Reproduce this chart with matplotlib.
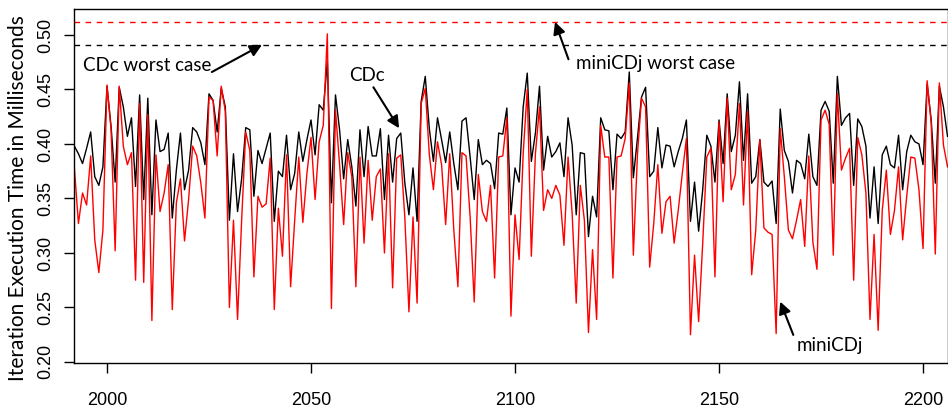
import numpy as np
import matplotlib.pyplot as plt
from matplotlib import font_manager

# ============================================================
# DATA (iteration execution time, milliseconds)
# ============================================================
first_iter = 1992

cdc = [
    0.398, 0.391, 0.382, 0.396, 0.411, 0.370, 0.362, 0.379, 0.453, 0.416,   # 1992-2001
    0.365, 0.452, 0.434, 0.407, 0.424, 0.361, 0.445, 0.349, 0.442, 0.335,   # 2002-2011
    0.422, 0.393, 0.395, 0.410, 0.332, 0.376, 0.410, 0.358, 0.376, 0.415,   # 2012-2021
    0.411, 0.401, 0.381, 0.446, 0.440, 0.411, 0.451, 0.434, 0.330, 0.391,   # 2022-2031
    0.338, 0.368, 0.415, 0.413, 0.352, 0.394, 0.382, 0.396, 0.410, 0.329,   # 2032-2041
    0.375, 0.370, 0.408, 0.358, 0.373, 0.411, 0.384, 0.404, 0.422, 0.390,   # 2042-2051
    0.436, 0.431, 0.476, 0.346, 0.445, 0.413, 0.368, 0.404, 0.379, 0.343,   # 2052-2061
    0.413, 0.370, 0.416, 0.389, 0.389, 0.414, 0.349, 0.408, 0.365, 0.405,   # 2062-2071
    0.410, 0.364, 0.335, 0.378, 0.329, 0.439, 0.462, 0.414, 0.384, 0.424,   # 2072-2081
    0.404, 0.383, 0.411, 0.382, 0.358, 0.421, 0.424, 0.388, 0.349, 0.404,   # 2082-2091
    0.381, 0.385, 0.382, 0.359, 0.410, 0.409, 0.433, 0.335, 0.378, 0.365,   # 2092-2101
    0.434, 0.465, 0.384, 0.410, 0.453, 0.376, 0.407, 0.388, 0.393, 0.401,   # 2102-2111
    0.370, 0.424, 0.399, 0.335, 0.392, 0.391, 0.315, 0.352, 0.333, 0.424,   # 2112-2121
    0.413, 0.412, 0.358, 0.409, 0.405, 0.411, 0.466, 0.369, 0.405, 0.443,   # 2122-2131
    0.452, 0.370, 0.375, 0.415, 0.378, 0.399, 0.398, 0.379, 0.393, 0.405,   # 2132-2141
    0.422, 0.329, 0.365, 0.320, 0.358, 0.408, 0.398, 0.365, 0.422, 0.382,   # 2142-2151
    0.446, 0.393, 0.408, 0.457, 0.385, 0.446, 0.364, 0.370, 0.404, 0.365,   # 2152-2161
    0.361, 0.366, 0.327, 0.432, 0.394, 0.384, 0.355, 0.385, 0.382, 0.368,   # 2162-2171
    0.409, 0.370, 0.362, 0.431, 0.439, 0.430, 0.364, 0.462, 0.417, 0.424,   # 2172-2181
    0.428, 0.362, 0.423, 0.416, 0.398, 0.332, 0.379, 0.327, 0.390, 0.398,   # 2182-2191
    0.381, 0.378, 0.408, 0.358, 0.393, 0.408, 0.402, 0.400, 0.381, 0.455,   # 2192-2201
    0.422, 0.364, 0.453, 0.434, 0.407,                                      # 2202-2206
]

minicdj = [
    0.378, 0.327, 0.355, 0.344, 0.389, 0.312, 0.282, 0.321, 0.454, 0.413,   # 1992-2001
    0.302, 0.453, 0.398, 0.381, 0.392, 0.275, 0.437, 0.273, 0.427, 0.238,   # 2002-2011
    0.390, 0.338, 0.355, 0.381, 0.248, 0.346, 0.368, 0.311, 0.349, 0.398,   # 2012-2021
    0.389, 0.364, 0.332, 0.443, 0.440, 0.389, 0.453, 0.430, 0.250, 0.330,   # 2022-2031
    0.239, 0.330, 0.411, 0.394, 0.278, 0.352, 0.342, 0.345, 0.387, 0.248,   # 2032-2041
    0.341, 0.297, 0.390, 0.269, 0.330, 0.388, 0.328, 0.373, 0.406, 0.349,   # 2042-2051
    0.402, 0.417, 0.501, 0.249, 0.431, 0.381, 0.326, 0.392, 0.370, 0.269,   # 2052-2061
    0.388, 0.309, 0.385, 0.330, 0.370, 0.377, 0.300, 0.391, 0.268, 0.387,   # 2062-2071
    0.390, 0.332, 0.246, 0.333, 0.254, 0.437, 0.451, 0.390, 0.358, 0.402,   # 2072-2081
    0.381, 0.326, 0.391, 0.321, 0.269, 0.392, 0.389, 0.333, 0.255, 0.372,   # 2082-2091
    0.338, 0.329, 0.362, 0.277, 0.388, 0.389, 0.424, 0.242, 0.335, 0.294,   # 2092-2101
    0.391, 0.450, 0.297, 0.391, 0.434, 0.339, 0.358, 0.350, 0.362, 0.353,   # 2102-2111
    0.307, 0.388, 0.336, 0.254, 0.362, 0.330, 0.227, 0.303, 0.239, 0.417,   # 2112-2121
    0.388, 0.388, 0.277, 0.388, 0.389, 0.405, 0.456, 0.298, 0.390, 0.442,   # 2122-2131
    0.434, 0.287, 0.327, 0.381, 0.318, 0.347, 0.352, 0.309, 0.339, 0.373,   # 2132-2141
    0.405, 0.225, 0.298, 0.237, 0.309, 0.388, 0.396, 0.278, 0.420, 0.347,   # 2142-2151
    0.442, 0.358, 0.372, 0.437, 0.344, 0.430, 0.280, 0.321, 0.404, 0.323,   # 2152-2161
    0.319, 0.317, 0.226, 0.414, 0.370, 0.321, 0.313, 0.330, 0.349, 0.306,   # 2162-2171
    0.389, 0.310, 0.285, 0.422, 0.431, 0.418, 0.298, 0.446, 0.376, 0.387,   # 2172-2181
    0.396, 0.275, 0.406, 0.390, 0.355, 0.239, 0.317, 0.229, 0.339, 0.376,   # 2182-2191
    0.317, 0.339, 0.379, 0.312, 0.352, 0.388, 0.387, 0.358, 0.304, 0.458,   # 2192-2201
    0.419, 0.299, 0.456, 0.399, 0.379,                                      # 2202-2206
]

cdc_worst = 0.491
minicdj_worst = 0.512

xticks = [2000, 2050, 2100, 2150, 2200]
yticks = [0.20, 0.25, 0.30, 0.35, 0.40, 0.45, 0.50]

iters = np.arange(first_iter, first_iter + len(cdc))

# ============================================================
# FONTS
# ============================================================
names = {f.name for f in font_manager.fontManager.ttflist}
tick_font = "Liberation Sans Narrow" if "Liberation Sans Narrow" in names else "Liberation Sans"
text_font = "Lato"

# ============================================================
# PLOT
# ============================================================
fig = plt.figure(figsize=(9.48, 4.11), dpi=100)
ax = fig.add_axes([0.078, 0.117, 0.9215, 0.860])

ax.plot(iters, cdc, color="black", linewidth=1.0)
ax.plot(iters, minicdj, color="#FF0000", linewidth=1.0)

ax.axhline(cdc_worst, color="black", linestyle=(0, (4, 4)), linewidth=1.0)
ax.axhline(minicdj_worst, color="#FF0000", linestyle=(0, (4, 4)), linewidth=1.0)

ax.set_xlim(1991.9, 2206.0)
ax.set_ylim(0.1991, 0.5234)
ax.set_xticks(xticks)
ax.set_yticks(yticks)
ax.set_xticklabels([str(t) for t in xticks], fontfamily=tick_font, fontsize=13)
ax.set_yticklabels(["%.2f" % t for t in yticks], fontfamily=tick_font, fontsize=13,
                   rotation=90, va="center")
ax.tick_params(axis="both", direction="out", length=7, width=1, color="black")
ax.tick_params(axis="x", pad=14)
ax.tick_params(axis="y", pad=7)
for sp in ax.spines.values():
    sp.set_linewidth(1.0)

ax.set_ylabel("Iteration Execution Time in Milliseconds", fontfamily=text_font,
              fontsize=15)
ax.yaxis.set_label_coords(-0.053, 0.466)

# annotations
arrow = dict(arrowstyle="-|>", color="black", lw=1.5, mutation_scale=18,
             shrinkA=0, shrinkB=0)
ax.annotate("", xy=(2038.0, cdc_worst), xytext=(2025.7, 0.466), arrowprops=arrow)
ax.text(1994.0, 0.472, "CDc worst case", fontfamily=text_font, fontsize=13.5,
        ha="left", va="center")

ax.annotate("", xy=(2071.6, 0.4144), xytext=(2065.3, 0.452), arrowprops=arrow)
ax.text(2063.7, 0.463, "CDc", fontfamily=text_font, fontsize=13.5,
        ha="center", va="center")

ax.annotate("", xy=(2109.8, minicdj_worst), xytext=(2113.1, 0.4777), arrowprops=arrow)
ax.text(2115.0, 0.4734, "miniCDj worst case", fontfamily=text_font, fontsize=13.5,
        ha="left", va="center")

ax.annotate("", xy=(2165.0, 0.2553), xytext=(2168.2, 0.2248), arrowprops=arrow)
ax.text(2177.2, 0.2147, "miniCDj", fontfamily=text_font, fontsize=13.5,
        ha="center", va="center")

plt.savefig("out.png", dpi=100)
